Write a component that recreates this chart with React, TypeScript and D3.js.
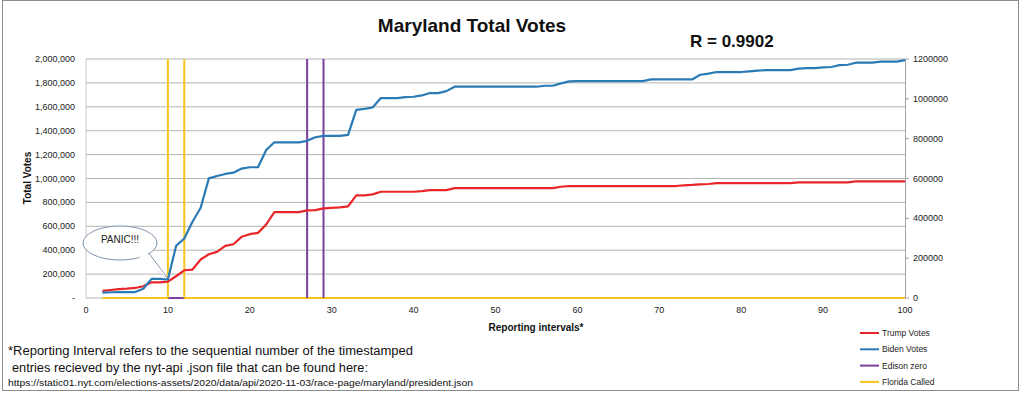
import React, { useRef, useEffect } from "react";
import * as d3 from "d3";

// first reporting interval shown on the chart
const firstInterval = 2;

const trumpVotes = [
  59000, 67000, 75000, 78000, 84000, 98000, 131000, 131000, 137000, 182000,
  232000, 238000, 322000, 366000, 386000, 436000, 450000, 512000, 534000, 545000,
  615000, 719000, 719000, 719000, 719000, 733000, 736000, 750000, 755000, 758000,
  766000, 859000, 859000, 867000, 889000, 889000, 889000, 889000, 889000, 895000,
  903000, 903000, 903000, 920000, 920000, 920000, 920000, 920000, 920000, 920000,
  920000, 920000, 920000, 920000, 920000, 920000, 931000, 937000, 937000, 937000,
  937000, 937000, 937000, 937000, 937000, 937000, 937000, 937000, 937000, 937000,
  937000, 943000, 946000, 951000, 954000, 962000, 962000, 962000, 962000, 962000,
  962000, 962000, 962000, 962000, 962000, 968000, 968000, 968000, 968000, 968000,
  968000, 968000, 976000, 976000, 976000, 976000, 976000, 976000, 976000,
];

const bidenVotes = [
  45000, 48000, 50000, 50000, 50000, 78000, 160000, 160000, 155000, 436000,
  498000, 638000, 755000, 1001000, 1021000, 1038000, 1049000, 1083000, 1094000, 1094000,
  1239000, 1303000, 1303000, 1303000, 1303000, 1315000, 1345000, 1357000, 1357000, 1357000,
  1365000, 1575000, 1583000, 1594000, 1673000, 1673000, 1673000, 1681000, 1684000, 1695000,
  1715000, 1715000, 1731000, 1768000, 1768000, 1768000, 1768000, 1768000, 1768000, 1768000,
  1768000, 1768000, 1768000, 1768000, 1776000, 1776000, 1796000, 1813000, 1815000, 1815000,
  1815000, 1815000, 1815000, 1815000, 1815000, 1815000, 1815000, 1829000, 1829000, 1829000,
  1829000, 1829000, 1829000, 1868000, 1877000, 1891000, 1891000, 1891000, 1891000, 1896000,
  1902000, 1907000, 1907000, 1907000, 1907000, 1919000, 1924000, 1924000, 1930000, 1933000,
  1949000, 1952000, 1969000, 1969000, 1969000, 1978000, 1978000, 1978000, 1990000,
];

// vertical markers (reporting interval)
const floridaCalled = [10, 12];
const edisonZero = [27, 29];

const xTicks = [0, 10, 20, 30, 40, 50, 60, 70, 80, 90, 100];
const leftTicks = [0, 200000, 400000, 600000, 800000, 1000000, 1200000, 1400000, 1600000, 1800000, 2000000];
const rightTicks = [0, 200000, 400000, 600000, 800000, 1000000, 1200000];

const legendItems = [
  { name: "Trump Votes", color: "#e8262a" },
  { name: "Biden Votes", color: "#2a7ab5" },
  { name: "Edison zero", color: "#7a3fa0" },
  { name: "Florida Called", color: "#f7c31f" },
];

const W = 1024;
const H = 393;
const FONT = "'Liberation Sans', Arial, sans-serif";

export default function App() {
  const svgRef = useRef<SVGSVGElement>(null);

  useEffect(() => {
    const svg = d3.select(svgRef.current);
    svg.selectAll("*").remove();

    const x = d3.scaleLinear().domain([0, 100]).range([86, 905]);
    const y = d3.scaleLinear().domain([0, 2000000]).range([298, 59]);
    const y2 = d3.scaleLinear().domain([0, 1200000]).range([298, 59]);

    svg.append("rect").attr("width", W).attr("height", H).attr("fill", "#fff");
    svg.append("rect")
      .attr("x", 2.5).attr("y", 0.5).attr("width", 1016).attr("height", 390)
      .attr("fill", "none").attr("stroke", "#8c8c8c");

    // gridlines
    const g = svg.append("g");
    g.selectAll("line.grid").data(leftTicks.slice(1)).enter().append("line")
      .attr("x1", x(0)).attr("x2", x(100))
      .attr("y1", d => y(d)).attr("y2", d => y(d))
      .attr("stroke", "#b4b4b4").attr("stroke-width", 1);

    // axis lines
    g.append("line").attr("x1", x(0)).attr("x2", x(0)).attr("y1", y(0)).attr("y2", y(2000000))
      .attr("stroke", "#c8c8c8");
    g.append("line").attr("x1", x(100) + 0.5).attr("x2", x(100) + 0.5).attr("y1", y(0)).attr("y2", y(2000000))
      .attr("stroke", "#a0a0a0");
    g.append("line").attr("x1", x(0)).attr("x2", x(100)).attr("y1", y(0)).attr("y2", y(0))
      .attr("stroke", "#b4b4b4");

    // left labels
    g.selectAll("text.yl").data(leftTicks).enter().append("text")
      .attr("x", 75).attr("y", d => y(d) + 3)
      .attr("text-anchor", "end").attr("font-size", 9).attr("font-family", FONT).attr("fill", "#222")
      .text(d => (d === 0 ? "-" : d3.format(",")(d)));

    // right axis
    g.selectAll("line.rt").data(rightTicks).enter().append("line")
      .attr("x1", x(100)).attr("x2", x(100) + 4)
      .attr("y1", d => y2(d)).attr("y2", d => y2(d))
      .attr("stroke", "#a0a0a0");
    g.selectAll("text.yr").data(rightTicks).enter().append("text")
      .attr("x", 913).attr("y", d => y2(d) + 3)
      .attr("font-size", 9).attr("font-family", FONT).attr("fill", "#222")
      .text(d => String(d));

    // x labels
    g.selectAll("text.xl").data(xTicks).enter().append("text")
      .attr("x", d => x(d)).attr("y", 313)
      .attr("text-anchor", "middle").attr("font-size", 9).attr("font-family", FONT).attr("fill", "#222")
      .text(d => d);

    // baselines of the marker series
    g.append("line").attr("x1", x(firstInterval)).attr("x2", x(100)).attr("y1", y(0)).attr("y2", y(0))
      .attr("stroke", legendItems[3].color).attr("stroke-width", 2);
    g.append("line").attr("x1", x(floridaCalled[0])).attr("x2", x(floridaCalled[1])).attr("y1", y(0)).attr("y2", y(0))
      .attr("stroke", legendItems[2].color).attr("stroke-width", 2);

    const vlines = (vals: number[], color: string) =>
      g.selectAll(null).data(vals).enter().append("line")
        .attr("x1", d => x(d)).attr("x2", d => x(d))
        .attr("y1", y(0)).attr("y2", y(2000000))
        .attr("stroke", color).attr("stroke-width", 2);
    vlines(floridaCalled, legendItems[3].color);
    vlines(edisonZero, legendItems[2].color);

    const line = d3.line<number>()
      .x((d, i) => x(i + firstInterval))
      .y(d => y(d));

    g.append("path").datum(trumpVotes).attr("d", line)
      .attr("fill", "none").attr("stroke", legendItems[0].color).attr("stroke-width", 2.2)
      .attr("stroke-linejoin", "round");
    g.append("path").datum(bidenVotes).attr("d", line)
      .attr("fill", "none").attr("stroke", legendItems[1].color).attr("stroke-width", 2.2)
      .attr("stroke-linejoin", "round");

    // PANIC bubble
    const tipX = x(floridaCalled[0]) - 1;
    const tipY = y(bidenVotes[floridaCalled[0] - firstInterval]) - 2;
    const bub = g.append("g");
    bub.append("path")
      .attr("d", `M148,252 L${tipX},${tipY} L140,257`)
      .attr("fill", "#fff").attr("stroke", "#7f93ad").attr("stroke-width", 1);
    bub.append("ellipse").attr("cx", 120).attr("cy", 243).attr("rx", 37).attr("ry", 17)
      .attr("fill", "#fff").attr("stroke", "#7f93ad").attr("stroke-width", 1);
    bub.append("path")
      .attr("d", `M147,253 L${tipX},${tipY} L139,257.5`)
      .attr("fill", "#fff").attr("stroke", "none");
    bub.append("text").attr("x", 120).attr("y", 243)
      .attr("text-anchor", "middle").attr("font-size", 10).attr("font-family", FONT).attr("fill", "#222")
      .text("PANIC!!!");

    // titles
    svg.append("text").attr("x", 472).attr("y", 32).attr("text-anchor", "middle")
      .attr("font-size", 19).attr("font-weight", "bold").attr("font-family", FONT).attr("fill", "#111")
      .text("Maryland Total Votes");
    svg.append("text").attr("x", 690).attr("y", 47)
      .attr("font-size", 17).attr("font-weight", "bold").attr("font-family", FONT).attr("fill", "#111")
      .text("R = 0.9902");
    svg.append("text").attr("transform", "translate(31,178) rotate(-90)").attr("text-anchor", "middle")
      .attr("font-size", 10).attr("font-weight", "bold").attr("font-family", FONT).attr("fill", "#111")
      .text("Total Votes");
    svg.append("text").attr("x", 536).attr("y", 331).attr("text-anchor", "middle")
      .attr("font-size", 10).attr("font-weight", "bold").attr("font-family", FONT).attr("fill", "#111")
      .text("Reporting intervals*");

    // footnote
    svg.append("text").attr("x", 8).attr("y", 355).attr("textLength", 405).attr("lengthAdjust", "spacingAndGlyphs")
      .attr("font-size", 12.5).attr("font-family", FONT).attr("fill", "#111")
      .text("*Reporting Interval refers to the sequential number of the timestamped");
    svg.append("text").attr("x", 12).attr("y", 372).attr("textLength", 356).attr("lengthAdjust", "spacingAndGlyphs")
      .attr("font-size", 12.5).attr("font-family", FONT).attr("fill", "#111")
      .text("entries recieved by the nyt-api .json file that can be found here:");
    svg.append("text").attr("x", 8).attr("y", 386).attr("textLength", 465).attr("lengthAdjust", "spacingAndGlyphs")
      .attr("font-size", 9.5).attr("font-family", FONT).attr("fill", "#111")
      .text("https://static01.nyt.com/elections-assets/2020/data/api/2020-11-03/race-page/maryland/president.json");

    // legend
    const lg = svg.append("g");
    legendItems.forEach((it, i) => {
      const ly = 333 + i * 16.3;
      lg.append("line").attr("x1", 860).attr("x2", 879).attr("y1", ly).attr("y2", ly)
        .attr("stroke", it.color).attr("stroke-width", 2);
      lg.append("text").attr("x", 882).attr("y", ly + 3).attr("font-size", 8.5).attr("font-family", FONT)
        .attr("fill", "#222").text(it.name);
    });
  }, []);

  return (
    <svg ref={svgRef} width={W} height={H}
      style={{ position: "absolute", left: 0, top: 0, display: "block" }} />
  );
}
